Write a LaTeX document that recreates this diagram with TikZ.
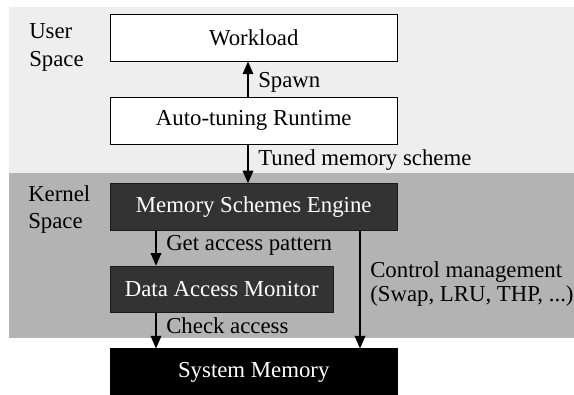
\documentclass[tikz,border=0pt]{standalone}
\usepackage{fontspec}
\setmainfont{Liberation Serif}
\usetikzlibrary{arrows.meta}
\definecolor{userbg}{HTML}{EEEEEE}
\definecolor{kernbg}{HTML}{B3B3B3}
\definecolor{darkbox}{HTML}{333333}
\definecolor{darkline}{HTML}{1A1A1A}
\tikzset{
  whitebox/.style={draw=black, line width=0.75pt, fill=white, inner sep=0pt,
    minimum height=34.9pt, text=black},
  darkbox/.style={draw=darkline, line width=0.75pt, fill=darkbox, inner sep=0pt,
    minimum height=34.9pt, text=white},
  blackbox/.style={draw=black, line width=0.75pt, fill=black, inner sep=0pt,
    minimum height=34.9pt, text=white},
  arr/.style={line width=1.1pt, -{Triangle[width=8pt,length=9.5pt]}},
  lbl/.style={anchor=base west, inner sep=0pt, text=black},
}
\begin{document}
\begin{tikzpicture}[x=0.75pt, y=-0.75pt, font=\fontsize{17.1}{20}\selectfont]
\useasboundingbox (0,0) rectangle (574,394);
% bands
\fill[userbg] (9,7) rectangle (574,173);
\fill[kernbg] (9,173) rectangle (574,338);
% region labels
\node[lbl] (us1) at (29,38.5) {User};
\node[lbl] (us2) at (29,66) {Space};
\node[lbl] (ks1) at (28,201.5) {Kernel};
\node[lbl] (ks2) at (28,228) {Space};
% boxes
\node[whitebox, minimum width=214.9pt] (work) at (253.75,37.75) {Workload};
\node[whitebox, minimum width=214.9pt] (auto) at (253.75,120.75) {Auto-tuning Runtime};
\node[darkbox, minimum width=214.9pt] (mse) at (253.75,207) {Memory Schemes Engine};
\node[darkbox, minimum width=166.9pt] (dam) at (221.75,289.5) {Data Access Monitor};
\node[blackbox, minimum width=214.9pt] (sm) at (253.75,372.25) {System Memory};
% arrow columns
\coordinate (xa) at (248,0);
\coordinate (xb) at (156,0);
\coordinate (xc) at (360,0);
% arrows
\draw[arr] (xa |- auto.north) -- (xa |- work.south);
\draw[arr] (xa |- auto.south) -- (xa |- mse.north);
\draw[arr] (xb |- mse.south) -- (xb |- dam.north);
\draw[arr] (xb |- dam.south) -- (xb |- sm.north);
\draw[arr] (xc |- mse.south) -- (xc |- sm.north);
% arrow labels
\node[lbl] (spawn) at (258,87) {Spawn};
\node[lbl] (tuned) at (258,165) {Tuned memory scheme};
\node[lbl] (getp) at (166,250) {Get access pattern};
\node[lbl] (chk) at (166,333) {Check access};
\node[lbl] (cm1) at (370,277) {Control management};
\node[lbl] (cm2) at (370,301) {(Swap, LRU, THP, ...)};
\end{tikzpicture}
\end{document}
